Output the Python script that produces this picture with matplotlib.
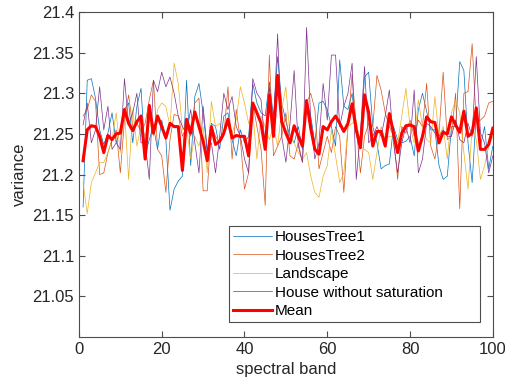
import numpy as np
import matplotlib
matplotlib.use('Agg')
import matplotlib.pyplot as plt
from matplotlib.ticker import FuncFormatter

plt.rcParams['font.family'] = ['Liberation Sans', 'DejaVu Sans']

# 光谱波段 1..100
bands = np.arange(1, 101)

houses_tree1 = [
    21.160, 21.316, 21.318, 21.294, 21.255, 21.237, 21.251, 21.276, 21.239, 21.255,
    21.280, 21.288, 21.239, 21.284, 21.306, 21.223, 21.243, 21.259, 21.231, 21.267,
    21.243, 21.156, 21.182, 21.192, 21.198, 21.316, 21.211, 21.296, 21.312, 21.276,
    21.227, 21.263, 21.259, 21.231, 21.272, 21.276, 21.243, 21.223, 21.255, 21.239,
    21.247, 21.312, 21.288, 21.276, 21.272, 21.314, 21.272, 21.345, 21.288, 21.265,
    21.247, 21.239, 21.259, 21.231, 21.292, 21.272, 21.239, 21.288, 21.290, 21.280,
    21.259, 21.235, 21.341, 21.284, 21.280, 21.300, 21.251, 21.243, 21.320, 21.326,
    21.259, 21.239, 21.207, 21.211, 21.213, 21.259, 21.243, 21.239, 21.241, 21.247,
    21.223, 21.280, 21.300, 21.278, 21.255, 21.255, 21.211, 21.194, 21.198, 21.259,
    21.259, 21.339, 21.328, 21.239, 21.190, 21.276, 21.235, 21.259, 21.207, 21.235,
]

houses_tree2 = [
    21.272, 21.280, 21.298, 21.290, 21.200, 21.202, 21.227, 21.243, 21.255, 21.202,
    21.267, 21.298, 21.259, 21.263, 21.253, 21.263, 21.292, 21.316, 21.231, 21.223,
    21.178, 21.243, 21.274, 21.272, 21.247, 21.259, 21.247, 21.288, 21.294, 21.180,
    21.180, 21.259, 21.247, 21.239, 21.247, 21.308, 21.219, 21.280, 21.243, 21.182,
    21.202, 21.288, 21.259, 21.231, 21.162, 21.347, 21.223, 21.235, 21.247, 21.276,
    21.223, 21.219, 21.239, 21.215, 21.288, 21.300, 21.280, 21.207, 21.227, 21.247,
    21.227, 21.259, 21.247, 21.178, 21.259, 21.324, 21.259, 21.202, 21.247, 21.263,
    21.259, 21.322, 21.304, 21.276, 21.259, 21.247, 21.194, 21.259, 21.251, 21.267,
    21.247, 21.267, 21.259, 21.312, 21.235, 21.219, 21.251, 21.326, 21.243, 21.247,
    21.300, 21.158, 21.300, 21.302, 21.361, 21.263, 21.267, 21.272, 21.288, 21.290,
]

landscape = [
    21.190, 21.152, 21.190, 21.202, 21.215, 21.215, 21.227, 21.243, 21.276, 21.227,
    21.280, 21.194, 21.280, 21.235, 21.259, 21.247, 21.267, 21.247, 21.280, 21.288,
    21.284, 21.259, 21.337, 21.312, 21.255, 21.259, 21.219, 21.247, 21.235, 21.259,
    21.202, 21.290, 21.259, 21.263, 21.251, 21.267, 21.251, 21.267, 21.308, 21.288,
    21.263, 21.276, 21.219, 21.272, 21.259, 21.243, 21.259, 21.235, 21.280, 21.308,
    21.247, 21.239, 21.227, 21.219, 21.227, 21.198, 21.178, 21.172, 21.198, 21.211,
    21.255, 21.223, 21.190, 21.202, 21.259, 21.263, 21.267, 21.235, 21.231, 21.227,
    21.194, 21.227, 21.259, 21.243, 21.247, 21.247, 21.239, 21.272, 21.306, 21.259,
    21.239, 21.292, 21.259, 21.243, 21.239, 21.296, 21.247, 21.259, 21.219, 21.276,
    21.292, 21.276, 21.227, 21.182, 21.259, 21.243, 21.194, 21.211, 21.235, 21.247,
]

house_no_sat = [
    21.261, 21.288, 21.239, 21.255, 21.308, 21.255, 21.284, 21.231, 21.239, 21.231,
    21.318, 21.263, 21.276, 21.300, 21.239, 21.239, 21.194, 21.316, 21.302, 21.326,
    21.308, 21.320, 21.300, 21.272, 21.259, 21.251, 21.280, 21.239, 21.202, 21.284,
    21.231, 21.239, 21.202, 21.247, 21.300, 21.280, 21.296, 21.259, 21.247, 21.219,
    21.202, 21.318, 21.300, 21.292, 21.235, 21.308, 21.259, 21.373, 21.247, 21.215,
    21.263, 21.328, 21.235, 21.215, 21.381, 21.267, 21.219, 21.239, 21.312, 21.267,
    21.347, 21.347, 21.259, 21.284, 21.300, 21.337, 21.194, 21.251, 21.333, 21.239,
    21.247, 21.259, 21.247, 21.272, 21.304, 21.239, 21.202, 21.239, 21.259, 21.239,
    21.304, 21.202, 21.219, 21.263, 21.259, 21.251, 21.247, 21.255, 21.247, 21.247,
    21.267, 21.243, 21.239, 21.263, 21.247, 21.345, 21.251, 21.239, 21.202, 21.223,
]

mean_vals = [
    21.217, 21.255, 21.260, 21.259, 21.247, 21.227, 21.248, 21.243, 21.250, 21.251,
    21.280, 21.263, 21.254, 21.265, 21.272, 21.219, 21.285, 21.251, 21.272, 21.259,
    21.245, 21.263, 21.259, 21.259, 21.205, 21.268, 21.251, 21.277, 21.259, 21.241,
    21.217, 21.259, 21.237, 21.241, 21.251, 21.268, 21.245, 21.248, 21.247, 21.247,
    21.223, 21.288, 21.276, 21.263, 21.231, 21.298, 21.247, 21.322, 21.265, 21.251,
    21.239, 21.260, 21.247, 21.235, 21.291, 21.257, 21.231, 21.225, 21.259, 21.255,
    21.265, 21.272, 21.263, 21.253, 21.263, 21.287, 21.255, 21.233, 21.298, 21.276,
    21.235, 21.253, 21.253, 21.235, 21.275, 21.251, 21.227, 21.251, 21.260, 21.261,
    21.259, 21.229, 21.247, 21.271, 21.265, 21.264, 21.239, 21.252, 21.250, 21.271,
    21.261, 21.252, 21.278, 21.247, 21.251, 21.282, 21.231, 21.231, 21.237, 21.257,
]

series = [
    ('HousesTree1', houses_tree1, '#0072BD'),
    ('HousesTree2', houses_tree2, '#D95319'),
    ('Landscape', landscape, '#EDB120'),
    ('House without saturation', house_no_sat, '#7E2F8E'),
]

fig = plt.figure(figsize=(5.06, 3.87), dpi=100)
ax = fig.add_axes([0.156, 0.129, 0.818, 0.840])

for name, vals, col in series:
    ax.plot(bands, vals, color=col, linewidth=0.5, label=name)
ax.plot(bands, mean_vals, color='#FF0000', linewidth=2.2, label='Mean')

ax.set_xlim(0, 100)
ax.set_ylim(21.0, 21.4)
ax.set_xticks(np.arange(0, 101, 20))
ax.set_yticks(np.arange(21.05, 21.401, 0.05))
ax.yaxis.set_major_formatter(FuncFormatter(lambda v, p: f'{v:g}'))

axis_col = '#4d4d4d'
for sp in ax.spines.values():
    sp.set_color(axis_col)
    sp.set_linewidth(0.8)
ax.tick_params(direction='in', top=True, right=True, length=4, width=0.8,
               color=axis_col, labelcolor='#262626', labelsize=12)

ax.set_xlabel('spectral band', fontsize=12, color='#262626')
ax.set_ylabel('variance', fontsize=12, color='#262626')

# 图例：MATLAB风格，右侧留白
leg = ax.legend(loc='lower left', bbox_to_anchor=(0.362, 0.046, 0.608, 0.3),
                mode='expand', borderaxespad=0,
                fontsize=11, labelspacing=0.3, handlelength=2.55, handletextpad=0.22,
                fancybox=False, framealpha=1, borderpad=0.25)
leg.get_frame().set_edgecolor(axis_col)
leg.get_frame().set_linewidth(0.8)

fig.savefig('out.png', dpi=100)
